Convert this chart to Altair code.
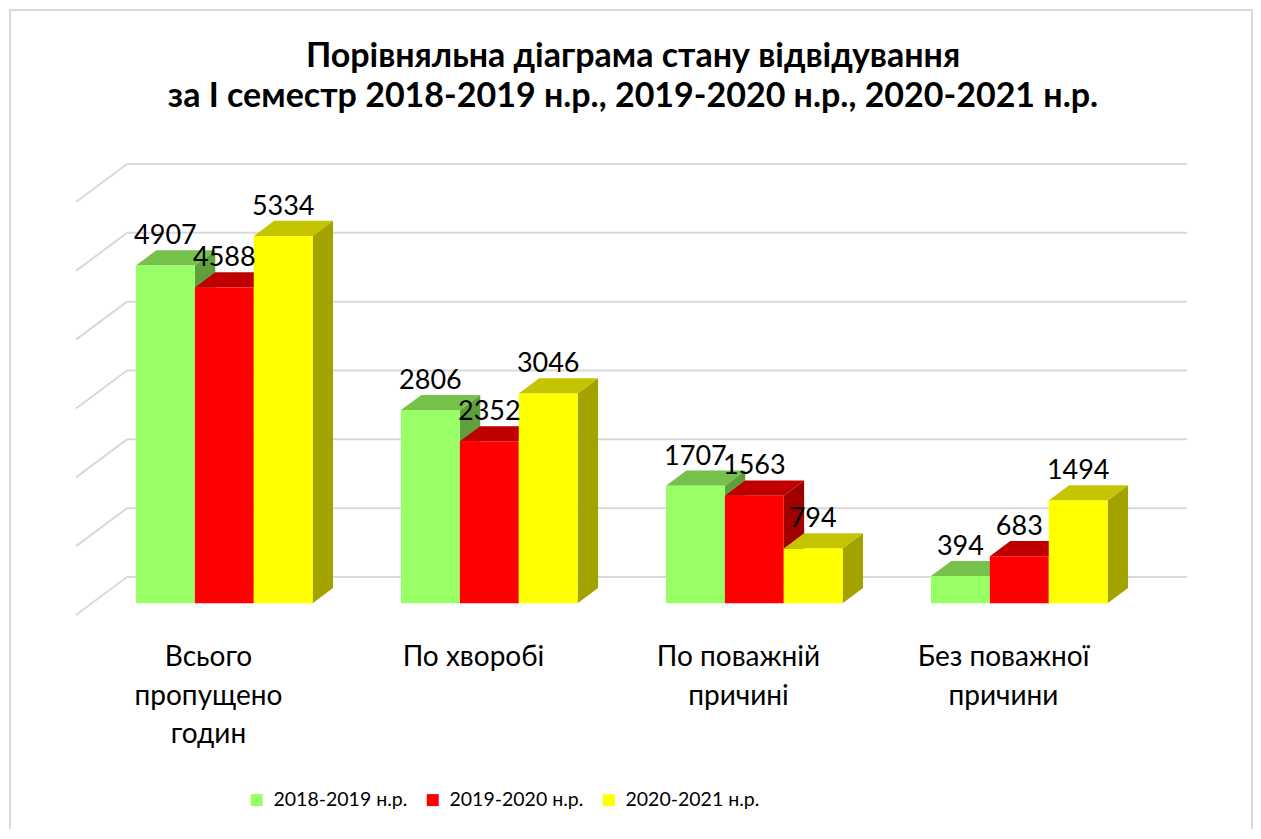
import altair as alt
import pandas as pd

# ---------------- data ----------------
CATEGORIES = ["Всього\nпропущено\nгодин", "По хворобі", "По поважній\nпричині", "Без поважної\nпричини"]
SERIES = ["2018-2019 н.р.", "2019-2020 н.р.", "2020-2021 н.р."]
V_2018_2019 = [4907, 2806, 1707, 394]
V_2019_2020 = [4588, 2352, 1563, 683]
V_2020_2021 = [5334, 3046, 794, 1494]
TICKS = [0, 1000, 2000, 3000, 4000, 5000, 6000]
TITLE = ["Порівняльна діаграма стану відвідування",
         "за І семестр 2018-2019 н.р., 2019-2020 н.р., 2020-2021 н.р."]

# ---------------- style / layout ----------------
FRONT = ["#99FF66", "#FF0000", "#FFFF00"]
TOP = ["#76C04C", "#C00000", "#C4C400"]
SIDE = ["#5FA03C", "#A00000", "#A3A300"]
GRID = "#d9d9d9"
FONT = "Lato"

SLOT = 265.0          # category slot width (x units = px)
GROUP = 2.0 / 3.0     # share of slot used by bars
DX = 51.0             # wall depth, horizontal
DV = 552.0            # wall depth, in value units
DF, DB = 0.31, 0.71   # bar front / back depth fraction
W = 4 * SLOT + DX
H_DOMAIN = 6000 + DV
PW, PH = 1111, 451

series_vals = [V_2018_2019, V_2019_2020, V_2020_2021]
bw = SLOT * GROUP / 3

front_rows, top_rows, side_rows, lab_rows = [], [], [], []
for i, cat in enumerate(CATEGORIES):
    for j, s in enumerate(SERIES):
        v = series_vals[j][i]
        bid = f"{i}-{j}"
        xa = i * SLOT + SLOT * (1 - GROUP) / 2 + j * bw + DF * DX
        xb = xa + bw
        d = (DB - DF) * DX
        yf0, yb0 = DF * DV, DB * DV
        yf, yb = v + DF * DV, v + DB * DV
        front_rows.append(dict(series=s, x=xa, x2=xb, y=yf0, y2=yf, order=j))
        for px, lo, hi in [(xa, yf, yf), (xa + d, yf, yb), (xb, yf, yb), (xb + d, yb, yb)]:
            top_rows.append(dict(bid=bid, series=s, x=px, y=lo, y2=hi))
        for px, lo, hi in [(xb, yf0, yf), (xb + d, yb0, yb)]:
            side_rows.append(dict(bid=bid, series=s, x=px, y=lo, y2=hi))
        lab_rows.append(dict(series=s, x=xa + bw / 2, y=yb, label=str(v)))

front_df = pd.DataFrame(front_rows)
top_df = pd.DataFrame(top_rows)
side_df = pd.DataFrame(side_rows)
lab_df = pd.DataFrame(lab_rows)
cat_df = pd.DataFrame(dict(cat=CATEGORIES, x=[SLOT * (k + 0.5) for k in range(4)], y=[0] * 4))
grid_df = pd.DataFrame(dict(v=TICKS, vb=[t + DV for t in TICKS], x0=[0] * len(TICKS),
                            xb=[DX] * len(TICKS), xe=[W] * len(TICKS)))
title_df = pd.DataFrame(dict(t=["\n".join(TITLE)]))

xs = alt.Scale(domain=[0, W], nice=False, zero=False)
ys = alt.Scale(domain=[0, H_DOMAIN], nice=False, zero=False)

back_grid = alt.Chart(grid_df).mark_rule(color=GRID, strokeWidth=2).encode(
    x=alt.X("xb:Q", scale=xs, axis=None), x2="xe:Q",
    y=alt.Y("vb:Q", scale=ys, axis=None))
side_grid = alt.Chart(grid_df).mark_rule(color=GRID, strokeWidth=2).encode(
    x=alt.X("x0:Q", scale=xs, axis=None), x2="xb:Q",
    y=alt.Y("v:Q", scale=ys, axis=None), y2="vb:Q")

sides = alt.Chart(side_df).mark_area(orient="vertical", opacity=1).encode(
    x=alt.X("x:Q", scale=xs, axis=None),
    y=alt.Y("y:Q", scale=ys, axis=None, stack=None), y2="y2:Q",
    detail="bid:N",
    color=alt.Color("series:N", scale=alt.Scale(domain=SERIES, range=SIDE), legend=None))

tops = alt.Chart(top_df).mark_area(orient="vertical", opacity=1).encode(
    x=alt.X("x:Q", scale=xs, axis=None),
    y=alt.Y("y:Q", scale=ys, axis=None, stack=None), y2="y2:Q",
    detail="bid:N",
    color=alt.Color("series:N", scale=alt.Scale(domain=SERIES, range=TOP), legend=None))

fronts = alt.Chart(front_df).mark_bar(opacity=1).encode(
    x=alt.X("x:Q", scale=xs, axis=None), x2="x2:Q",
    y=alt.Y("y:Q", scale=ys, axis=None, stack=None), y2="y2:Q",
    color=alt.Color("series:N", scale=alt.Scale(domain=SERIES, range=FRONT),
                    legend=alt.Legend(title=None, orient="none", legendX=171, legendY=626,
                                      direction="horizontal", symbolType="square",
                                      symbolSize=144, symbolStrokeWidth=0,
                                      labelFont=FONT, labelFontSize=19.5, labelColor="black",
                                      labelOffset=7, columnPadding=15, padding=0)))

labels = alt.Chart(lab_df).mark_text(font=FONT, fontSize=27, color="black",
                                     baseline="alphabetic", dy=-6).encode(
    x=alt.X("x:Q", scale=xs, axis=None), y=alt.Y("y:Q", scale=ys, axis=None), text="label:N")

cats = alt.Chart(cat_df).mark_text(font=FONT, fontSize=28, color="black", baseline="alphabetic",
                                   lineBreak="\n", lineHeight=38.5, dy=51).encode(
    x=alt.X("x:Q", scale=xs, axis=None), y=alt.Y("y:Q", scale=ys, axis=None), text="cat:N")

title = alt.Chart(title_df).mark_text(font=FONT, fontSize=34, fontWeight="bold", color="black",
                                      baseline="alphabetic", align="center",
                                      lineBreak="\n", lineHeight=40).encode(
    x=alt.value(557), y=alt.value(-97), text="t:N")

border = alt.Chart(pd.DataFrame(dict(a=[0]))).mark_rect(
    fill=None, stroke=GRID, strokeWidth=2, clip=False).encode(
    x=alt.value(-66), x2=alt.value(1176), y=alt.value(-154), y2=alt.value(680))

chart = alt.layer(border, back_grid, side_grid, sides, tops, fronts, labels, cats, title).resolve_scale(
    color="independent").properties(
    width=PW, height=PH,
    padding={"left": 68, "top": 156, "right": 66, "bottom": 214},
    autosize=alt.AutoSizeParams(type="none"),
    background="white",
).configure_view(stroke=None)

chart.save("out.html", embed_options={"renderer": "svg", "actions": False})
